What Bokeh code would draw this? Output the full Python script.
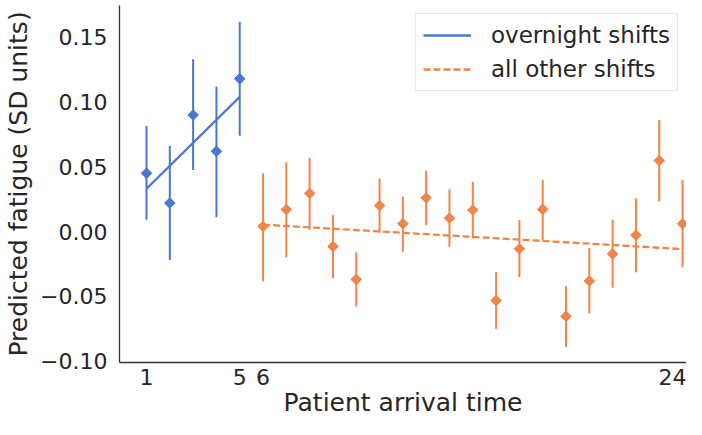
import numpy as np
from bokeh.plotting import figure
from bokeh.models import FixedTicker, Range1d, Legend, LegendItem
from bokeh.embed import file_html
from bokeh.resources import INLINE

# ---- data ----
night_x = [1, 2, 3, 4, 5]
night_y = [0.045, 0.022, 0.090, 0.062, 0.118]
night_lo = [0.009, -0.022, 0.0475, 0.011, 0.074]
night_hi = [0.0815, 0.066, 0.133, 0.112, 0.162]
night_fit_x = [1, 5]
night_fit_y = [0.033, 0.104]

other_x = [6, 7, 8, 9, 10, 11, 12, 13, 14, 15, 16, 17, 18, 19, 20, 21, 22, 23, 24]
other_y = [0.004, 0.017, 0.0294, -0.0116, -0.037, 0.020, 0.006, 0.026, 0.0103,
           0.0166, -0.0533, -0.0133, 0.0171, -0.0656, -0.0382, -0.0173, -0.0028,
           0.0548, 0.006]
other_lo = [-0.0385, -0.020, 0.0013, -0.036, -0.058, -0.001, -0.0156, 0.0048,
            -0.0118, -0.0055, -0.0754, -0.0352, -0.0066, -0.0892, -0.0633,
            -0.0435, -0.0314, 0.0231, -0.0277]
other_hi = [0.045, 0.0535, 0.057, 0.0128, -0.016, 0.041, 0.027, 0.047, 0.0324,
            0.0385, -0.031, 0.0088, 0.040, -0.0422, -0.013, 0.009, 0.0256,
            0.0862, 0.0397]
other_fit_x = [6, 24]
other_fit_y = [0.0053, -0.0136]

x_ticks = [1, 5, 6, 24]
y_ticks = [-0.10, -0.05, 0.00, 0.05, 0.10, 0.15]
y_tick_labels = ["\u22120.10", "\u22120.05", "0.00", "0.05", "0.10", "0.15"]
x_title = "Patient arrival time"
y_title = "Predicted fatigue (SD units)"
series_names = ["overnight shifts", "all other shifts"]

BLUE = "#4878d0"
ORANGE = "#ee854a"
TXT = "#262626"
FONT = "DejaVu Sans"
FS = "22px"
FS_TITLE = "25px"

p = figure(width=686, height=419, output_backend="svg", toolbar_location=None,
           x_range=Range1d(-0.159, 24.17), y_range=Range1d(-0.1012, 0.1746),
           min_border_left=119, min_border_right=0, min_border_top=5,
           min_border_bottom=50)
p.outline_line_color = None
p.xgrid.visible = False
p.ygrid.visible = False
p.background_fill_color = "white"

# error bars
p.segment(night_x, night_lo, night_x, night_hi, line_color=BLUE, line_width=2)
p.segment(other_x, other_lo, other_x, other_hi, line_color=ORANGE, line_width=2)

# fit lines
r1 = p.line(night_fit_x, night_fit_y, line_color=BLUE, line_width=2.3)
r2 = p.line(other_fit_x, other_fit_y, line_color=ORANGE, line_width=2.3, line_dash="7 3")

# markers
p.scatter(night_x, night_y, marker="square", size=7.5, angle=np.pi / 4,
          fill_color=BLUE, line_color=BLUE)
p.scatter(other_x, other_y, marker="square", size=7.5, angle=np.pi / 4,
          fill_color=ORANGE, line_color=ORANGE)

# axes
for ax in (p.xaxis[0], p.yaxis[0]):
    ax.major_tick_line_color = None
    ax.minor_tick_line_color = None
    ax.major_tick_out = 0
    ax.major_tick_in = 0
    ax.axis_line_color = "#333333"
    ax.axis_line_width = 1.3
    ax.major_label_text_font = FONT
    ax.major_label_text_font_size = FS
    ax.major_label_text_color = TXT
    ax.axis_label_text_font = FONT
    ax.axis_label_text_font_size = FS_TITLE
    ax.axis_label_text_font_style = "normal"
    ax.axis_label_text_color = TXT

p.xaxis.ticker = FixedTicker(ticks=x_ticks)
p.xaxis.major_label_standoff = 6
p.xaxis.axis_label = x_title
p.xaxis.axis_label_standoff = 0

p.yaxis.ticker = FixedTicker(ticks=y_ticks)
p.yaxis.major_label_overrides = {t: l for t, l in zip(y_ticks, y_tick_labels)}
p.yaxis.major_label_standoff = 12
p.yaxis.axis_label = y_title
p.yaxis.axis_label_standoff = 4

legend = Legend(items=[LegendItem(label=series_names[0], renderers=[r1]),
                       LegendItem(label=series_names[1], renderers=[r2])],
                location="top_right")
legend.label_text_font = FONT
legend.label_text_font_size = "23px"
legend.label_text_color = TXT
legend.glyph_width = 48
legend.glyph_height = 28
legend.label_height = 28
legend.label_standoff = 20
legend.padding = 7
legend.spacing = 6
legend.margin = 8
legend.border_line_color = "#d0d0d0"
legend.border_line_width = 1
legend.background_fill_alpha = 0.9
p.add_layout(legend)

open("out.html", "w").write(file_html(p, INLINE))
